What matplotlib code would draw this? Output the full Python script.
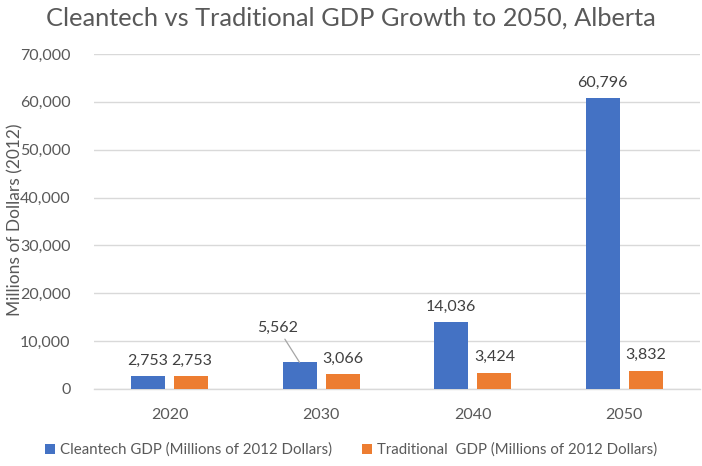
import numpy as np
import matplotlib
matplotlib.use("Agg")
import matplotlib.pyplot as plt

# data
years = ["2020", "2030", "2040", "2050"]
cleantech = [2753, 5562, 14036, 60796]
traditional = [2753, 3066, 3424, 3832]
series_names = ["Cleantech GDP (Millions of 2012 Dollars)",
                "Traditional  GDP (Millions of 2012 Dollars)"]

BLUE = "#4472C4"
ORANGE = "#ED7D31"
TXT = "#595959"
GRID = "#D9D9D9"

plt.rcParams['font.family'] = ['Lato', 'DejaVu Sans']

fig = plt.figure(figsize=(7.02, 4.66), dpi=100)
ax = fig.add_axes([94/702, 77/466, 606/702, 335/466])

x = np.arange(len(years))
w = 0.224
off = 0.143
b1 = ax.bar(x - off, cleantech, w, color=BLUE, label=series_names[0], zorder=3)
b2 = ax.bar(x + off, traditional, w, color=ORANGE, label=series_names[1], zorder=3)

ax.set_xlim(-0.5, len(years) - 0.5)
ax.set_ylim(0, 70000)
ax.set_yticks(np.arange(0, 70001, 10000))
ax.yaxis.set_major_formatter(matplotlib.ticker.FuncFormatter(lambda v, p: f"{int(v):,}"))
ax.set_xticks(x)
ax.set_xticklabels(years)
ax.tick_params(axis='both', length=0, colors=TXT, labelsize=11.5)
ax.tick_params(axis='x', pad=14)
ax.tick_params(axis='y', pad=17)
ax.grid(axis='y', color=GRID, linewidth=1, zorder=0)
for s in ['top', 'right', 'left']:
    ax.spines[s].set_visible(False)
ax.spines['bottom'].set_color(GRID)
ax.spines['bottom'].set_linewidth(1)

# y label placed by hand so it is not clipped
fig.text(15/702, 1 - 220/466, "Millions of Dollars (2012)", rotation=90,
         ha='center', va='center', color=TXT, fontsize=12.5)

# data labels
for i, (c, t) in enumerate(zip(cleantech, traditional)):
    if i == 1:
        # this one was dragged off the bar in the original, with a leader line
        ax.annotate(f"{c:,}", xy=(x[i] - off, c), xytext=(x[i] - 0.286, 12700),
                    textcoords='data', ha='center', va='center', fontsize=11.5,
                    color="#404040",
                    arrowprops=dict(arrowstyle='-', color='#A6A6A6', lw=0.9,
                                    shrinkA=1, shrinkB=0))
    else:
        ax.annotate(f"{c:,}", xy=(x[i] - off, c), xytext=(0, 6),
                    textcoords='offset points', ha='center', va='bottom',
                    fontsize=11.5, color="#404040")
    ax.annotate(f"{t:,}", xy=(x[i] + off, t), xytext=(0, 6),
                textcoords='offset points', ha='center', va='bottom',
                fontsize=11.5, color="#404040")

fig.text(0.5, 1 - 18/466, "Cleantech vs Traditional GDP Growth to 2050, Alberta",
         ha='center', va='center', fontsize=18.3, color=TXT)

fig.legend(handles=[b1, b2], loc='center', bbox_to_anchor=(0.5, 1 - 450/466),
           ncol=2, frameon=False, fontsize=10.8, labelcolor=TXT,
           handlelength=0.7, handleheight=0.7, handletextpad=0.3,
           columnspacing=2.0)

fig.savefig("out.png", dpi=100)
